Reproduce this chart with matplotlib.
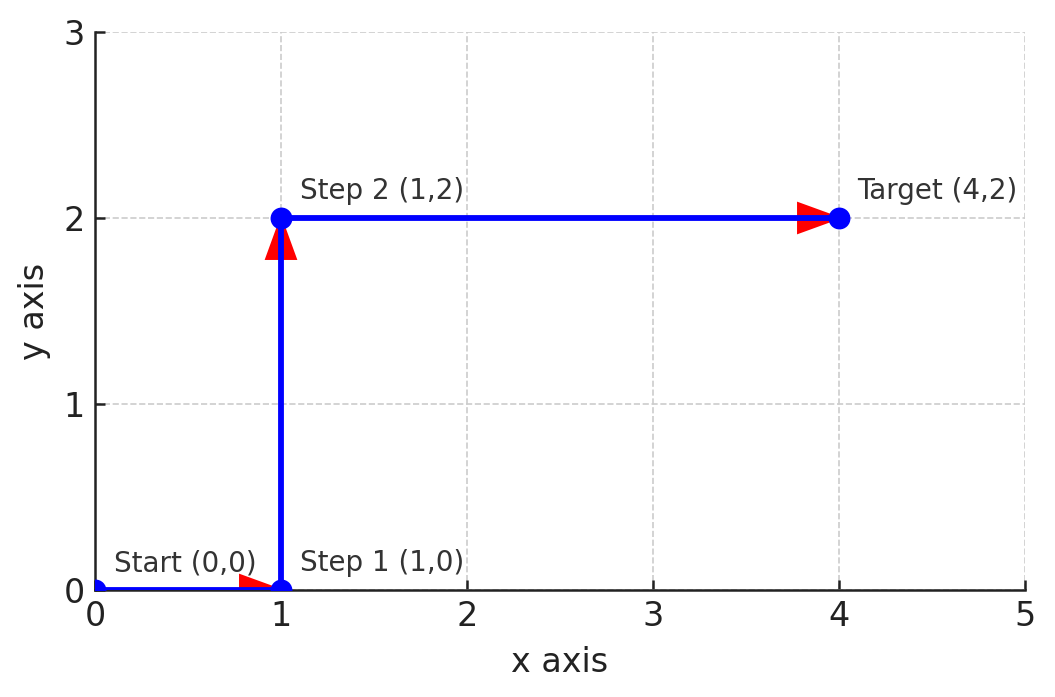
import matplotlib
matplotlib.use("Agg")
import matplotlib.pyplot as plt

# Data
path_x = [0, 1, 1, 4]
path_y = [0, 0, 2, 2]
labels = ["Start (0,0)", "Step 1 (1,0)", "Step 2 (1,2)", "Target (4,2)"]
x_ticks = [0, 1, 2, 3, 4, 5]
y_ticks = [0, 1, 2, 3]

fig = plt.figure(figsize=(1055 / 150, 697 / 150), dpi=150)
ax = fig.add_axes([95 / 1055, 1 - 590 / 697, 930 / 1055, 558 / 697])

# arrows between consecutive points (heads only show, body under the line)
for i in range(len(path_x) - 1):
    ax.arrow(path_x[i], path_y[i],
             path_x[i + 1] - path_x[i], path_y[i + 1] - path_y[i],
             head_width=0.16, head_length=0.22, width=0.005,
             length_includes_head=True, color="red", zorder=2)

ax.plot(path_x, path_y, color="blue", linewidth=2.8, marker="o",
        markersize=9.5, zorder=3)

for x, y, txt in zip(path_x, path_y, labels):
    ax.text(x + 0.1, y + 0.1, txt, fontsize=13.3, color="#333333")

ax.set_xlim(0, 5)
ax.set_ylim(0, 3)
ax.set_xticks(x_ticks)
ax.set_yticks(y_ticks)
ax.set_xlabel("x axis", fontsize=16, color="#222222", labelpad=6)
ax.set_ylabel("y axis", fontsize=16, color="#222222", labelpad=6)
ax.tick_params(direction="in", length=5, width=1.2, labelsize=16,
               colors="#222222", pad=5)
ax.grid(True, linestyle="--", color="#cccccc", linewidth=0.8)
ax.set_axisbelow(True)
for s in ["top", "right"]:
    ax.spines[s].set_visible(False)
for s in ["left", "bottom"]:
    ax.spines[s].set_linewidth(1.2)
    ax.spines[s].set_color("#222222")

fig.savefig("out.png", dpi=150)
